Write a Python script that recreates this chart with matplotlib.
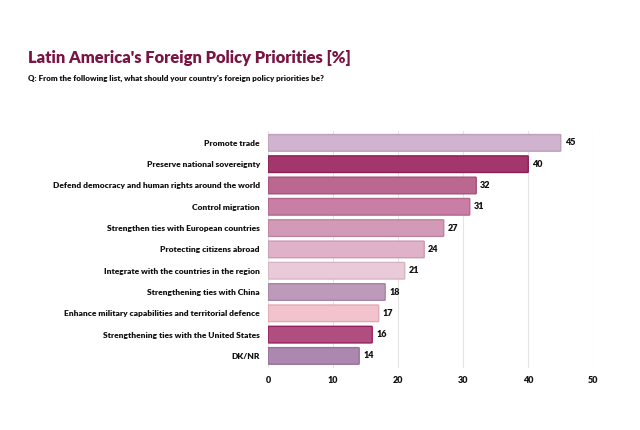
import matplotlib.pyplot as plt
from matplotlib.patches import FancyBboxPatch

plt.rcParams['font.family'] = ['Lato', 'DejaVu Sans']

categories = ["Promote trade", "Preserve national sovereignty",
              "Defend democracy and human rights around the world",
              "Control migration", "Strengthen ties with European countries",
              "Protecting citizens abroad", "Integrate with the countries in the region",
              "Strengthening ties with China",
              "Enhance military capabilities and territorial defence",
              "Strengthening ties with the United States", "DK/NR"]
values = [45, 40, 32, 31, 27, 24, 21, 18, 17, 16, 14]
colors = ["#d0b4cf", "#a3366b", "#bb6890", "#c97fa5", "#d39ab7", "#dfb2c9",
          "#e8cad8", "#bd9aba", "#f2c2cd", "#b04e80", "#ac87b0"]
edges = ["#bca0bb", "#8a1f55", "#a3527a", "#b3698f", "#bd84a1", "#c99cb3",
         "#d6b5c4", "#a884a5", "#dfaab7", "#951f5f", "#97719b"]
xticks = [0, 10, 20, 30, 40, 50]

fig = plt.figure(figsize=(6.4, 4.3), dpi=100)
ax = fig.add_axes([0.419, 0.145, 0.508, 0.55])

ys = list(range(len(categories)))[::-1]
bars = ax.barh(ys, values, height=0.78, color="none")
for b, c, e, v in zip(bars, colors, edges, values):
    x0, y0 = b.get_x(), b.get_y()
    w, h = b.get_width(), b.get_height()
    p = FancyBboxPatch((x0, y0), w, h, boxstyle="round,pad=0,rounding_size=0.15",
                       mutation_aspect=1/6.5, facecolor=c, edgecolor=e, linewidth=1)
    ax.add_patch(p)
    ax.text(v + 0.6, y0 + h / 2, str(v), va="center", ha="left",
            fontsize=6.5, fontweight="heavy", color="#111111")

ax.set_xlim(0, 50)
ax.set_ylim(-0.55, len(categories) - 0.45)
ax.set_xticks(xticks)
ax.set_xticklabels([str(t) for t in xticks], fontsize=6.5, fontweight="heavy", color="#111111")
ax.set_yticks(ys)
ax.set_yticklabels(categories, fontsize=6.0, fontweight="heavy", color="#111111")
ax.tick_params(length=0, pad=6)
ax.grid(axis="x", color="#e4e4e4", linewidth=0.8)
ax.set_axisbelow(True)
for s in ax.spines.values():
    s.set_visible(False)

fig.text(0.044, 0.853, "Latin America's Foreign Policy Priorities [%]", fontsize=11.9,
         fontweight="heavy", color="#7a1442")
fig.text(0.044, 0.812, "Q: From the following list, what should your country's foreign policy priorities be?",
         fontsize=5.8, fontweight="heavy", color="#111111")

fig.savefig("out.png", dpi=100, facecolor="white")
